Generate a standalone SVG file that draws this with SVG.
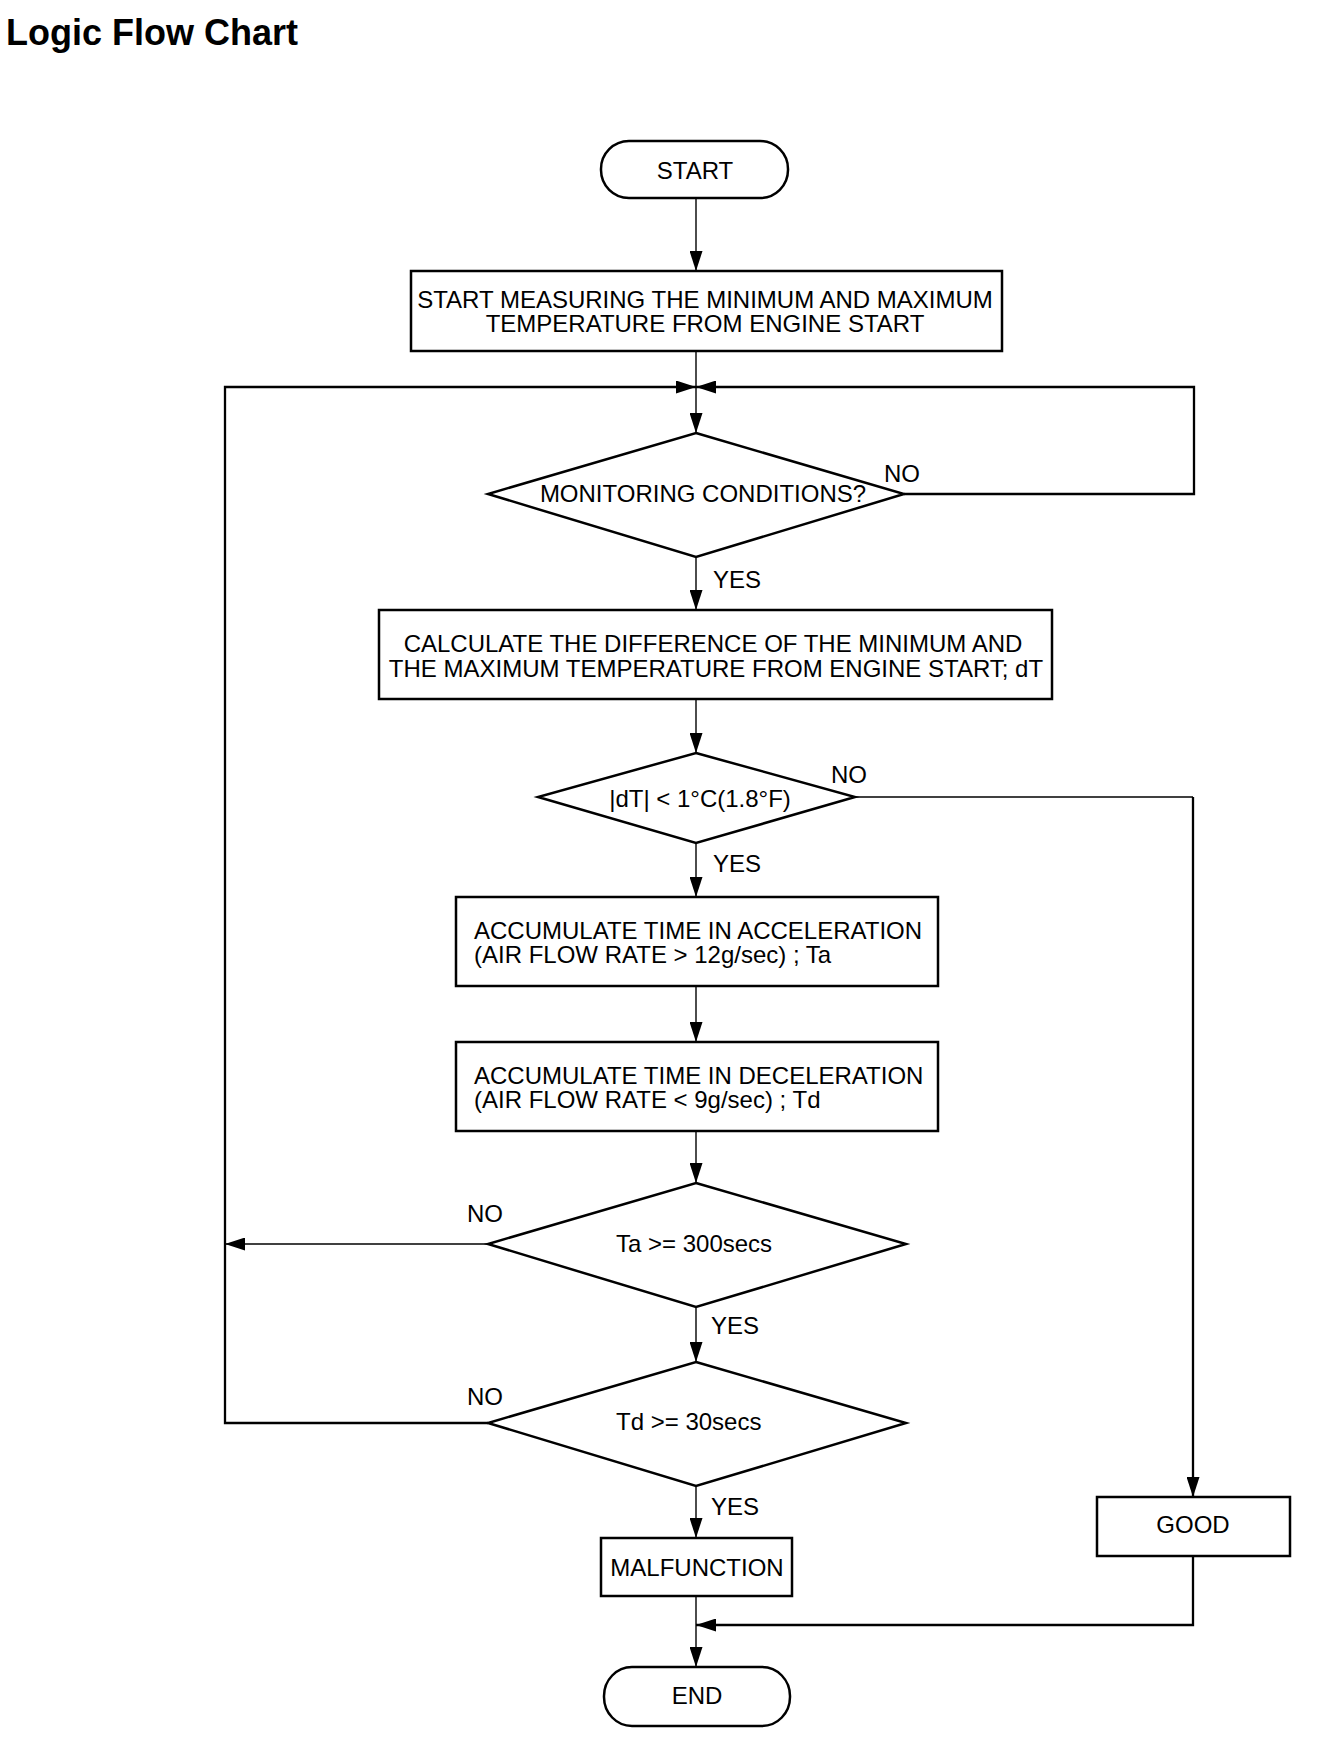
<svg xmlns="http://www.w3.org/2000/svg" width="1344" height="1746" viewBox="0 0 1344 1746">
<defs>
<style>
.shape{fill:#fff;stroke:#000;stroke-width:2.5}
.thin{fill:none;stroke:#000;stroke-width:1.4}
.thick{fill:none;stroke:#000;stroke-width:2.3}
text{font-family:"Liberation Sans",Arial,sans-serif;font-size:24px;fill:#000}
.c{text-anchor:middle}
.title{font-size:36px;font-weight:bold}
</style>
<marker id="ah" viewBox="0 0 20 13" refX="20" refY="6.5" markerWidth="20" markerHeight="13" markerUnits="userSpaceOnUse" orient="auto">
<path d="M0,0 L20,6.5 L0,13 Z" fill="#000"/>
</marker>
</defs>
<rect width="1344" height="1746" fill="#fff"/>
<text class="title" x="6" y="45">Logic Flow Chart</text>

<g id="connectors">
<path class="thin" d="M696 198 V271" marker-end="url(#ah)"/>
<path class="thin" d="M696 351 V433" marker-end="url(#ah)"/>
<path class="thick" d="M488 1423 H225 V387 H696" marker-end="url(#ah)"/>
<path class="thick" d="M904 494 H1194 V387 H696" marker-end="url(#ah)"/>
<path class="thin" d="M696 557 V610" marker-end="url(#ah)"/>
<path class="thin" d="M696 699 V753" marker-end="url(#ah)"/>
<path class="thin" d="M855 797 H1193"/>
<path class="thick" d="M1193 797 V1497" marker-end="url(#ah)"/>
<path class="thin" d="M696 843 V897" marker-end="url(#ah)"/>
<path class="thin" d="M696 986 V1042" marker-end="url(#ah)"/>
<path class="thin" d="M696 1131 V1183" marker-end="url(#ah)"/>
<path class="thin" d="M488 1244 H225" marker-end="url(#ah)"/>
<path class="thin" d="M696 1307 V1362" marker-end="url(#ah)"/>
<path class="thin" d="M696 1486 V1538" marker-end="url(#ah)"/>
<path class="thin" d="M696 1596 V1667" marker-end="url(#ah)"/>
<path class="thick" d="M1193 1556 V1625 H696" marker-end="url(#ah)"/>
<text x="713" y="588">YES</text>
<text x="884" y="482">NO</text>
<text x="713" y="872">YES</text>
<text x="831" y="783">NO</text>
<text x="467" y="1222">NO</text>
<text x="711" y="1334">YES</text>
<text x="467" y="1405">NO</text>
<text x="711" y="1515">YES</text>
</g>

<g id="start">
<rect class="shape" x="601" y="141" width="187" height="57" rx="28" ry="28"/>
<text class="c" x="695" y="179">START</text>
</g>
<g id="measure">
<rect class="shape" x="411" y="271" width="591" height="80"/>
<text class="c" x="705" y="308">START MEASURING THE MINIMUM AND MAXIMUM</text>
<text class="c" x="705" y="332">TEMPERATURE FROM ENGINE START</text>
</g>
<g id="monitoring">
<polygon class="shape" points="696,433 904,494 696,557 488,494"/>
<text class="c" x="703" y="502">MONITORING CONDITIONS?</text>
</g>
<g id="calculate">
<rect class="shape" x="379" y="610" width="673" height="89"/>
<text class="c" x="713" y="652">CALCULATE THE DIFFERENCE OF THE MINIMUM AND</text>
<text class="c" x="716" y="677">THE MAXIMUM TEMPERATURE FROM ENGINE START; dT</text>
</g>
<g id="dt">
<polygon class="shape" points="696,753 855,797 696,843 538,797"/>
<text class="c" x="700" y="807">|dT| &lt; 1°C(1.8°F)</text>
</g>
<g id="accel">
<rect class="shape" x="456" y="897" width="482" height="89"/>
<text x="474" y="939">ACCUMULATE TIME IN ACCELERATION</text>
<text x="474" y="963">(AIR FLOW RATE &gt; 12g/sec) ; Ta</text>
</g>
<g id="decel">
<rect class="shape" x="456" y="1042" width="482" height="89"/>
<text x="474" y="1084">ACCUMULATE TIME IN DECELERATION</text>
<text x="474" y="1108">(AIR FLOW RATE &lt; 9g/sec) ; Td</text>
</g>
<g id="ta">
<polygon class="shape" points="696,1183 906,1244 696,1307 488,1244"/>
<text x="616" y="1252">Ta &gt;= 300secs</text>
</g>
<g id="td">
<polygon class="shape" points="696,1362 906,1423 696,1486 488,1423"/>
<text x="616" y="1430">Td &gt;= 30secs</text>
</g>
<g id="malfunction">
<rect class="shape" x="601" y="1538" width="191" height="58"/>
<text class="c" x="697" y="1576">MALFUNCTION</text>
</g>
<g id="good">
<rect class="shape" x="1097" y="1497" width="193" height="59"/>
<text class="c" x="1193" y="1533">GOOD</text>
</g>
<g id="end">
<rect class="shape" x="604" y="1667" width="186" height="59" rx="28" ry="29"/>
<text class="c" x="697" y="1704">END</text>
</g>
</svg>
